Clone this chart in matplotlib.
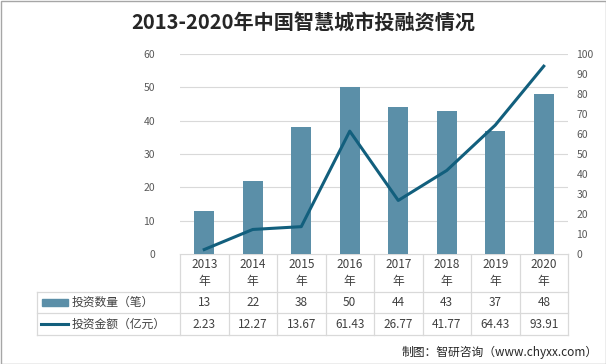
import matplotlib.pyplot as plt
from matplotlib.patches import Rectangle

plt.rcParams["font.family"] = ["Noto Sans CJK SC", "DejaVu Sans"]

years = ["2013", "2014", "2015", "2016", "2017", "2018", "2019", "2020"]
counts = [13, 22, 38, 50, 44, 43, 37, 48]
amounts = [2.23, 12.27, 13.67, 61.43, 26.77, 41.77, 64.43, 93.91]
count_label = "投资数量（笔）"
amount_label = "投资金额（亿元）"

BAR_COLOR = "#5b8fa8"
LINE_COLOR = "#125f7d"
GRID_COLOR = "#d9d9d9"
TEXT_COLOR = "#404040"
TICK_COLOR = "#595959"

W, H = 606, 364


def main():
    fig = plt.figure(figsize=(W / 100, H / 100), dpi=100)

    # page-size overlay in pixel coordinates for table, title and border
    page = fig.add_axes([0, 0, 1, 1])
    page.set_xlim(0, W)
    page.set_ylim(H, 0)
    page.axis("off")

    left, right, top, bottom = 180, 568, 54, 254
    ax = fig.add_axes([left / W, 1 - bottom / H, (right - left) / W, (bottom - top) / H])
    n = len(years)
    x = list(range(n))

    ax.bar(x, counts, width=0.42, color=BAR_COLOR, zorder=2)
    ax.set_xlim(-0.5, n - 0.5)
    ax.set_ylim(0, 60)
    ax.set_yticks(range(0, 61, 10))
    ax.yaxis.grid(True, color=GRID_COLOR, linewidth=0.8, zorder=0)
    ax.set_xticks([])
    for s in ax.spines.values():
        s.set_visible(False)
    ax.tick_params(axis="y", length=0, labelsize=7.5, labelcolor=TICK_COLOR, pad=18)

    ax2 = ax.twinx()
    ax2.plot(x, amounts, color=LINE_COLOR, linewidth=2.2, zorder=3)
    ax2.set_ylim(0, 100)
    ax2.set_yticks(range(0, 101, 10))
    for s in ax2.spines.values():
        s.set_visible(False)
    ax2.tick_params(axis="y", length=0, labelsize=7.5, labelcolor=TICK_COLOR, pad=6)

    # title
    page.text(W / 2, 22, "2013-2020年中国智慧城市投融资情况", ha="center", va="center",
              fontsize=14.5, fontweight="bold", color="#262626")

    # data table
    tab_left = 37
    rows = [254, 292, 313, 335]
    col_w = (right - left) / n
    lc = {"color": GRID_COLOR, "linewidth": 0.9}
    page.plot([left, right], [rows[0], rows[0]], **lc)
    for r in rows[1:]:
        page.plot([tab_left, right], [r, r], **lc)
    page.plot([tab_left, tab_left], [rows[1], rows[3]], **lc)
    for i in range(n + 1):
        cx = left + i * col_w
        page.plot([cx, cx], [rows[0], rows[3]], **lc)

    for i, yr in enumerate(years):
        cx = left + (i + 0.5) * col_w
        page.text(cx, (rows[0] + rows[1]) / 2, yr + "\n年", ha="center", va="center",
                  fontsize=8.5, color=TEXT_COLOR, linespacing=1.35)
        page.text(cx, (rows[1] + rows[2]) / 2, str(counts[i]), ha="center", va="center",
                  fontsize=8.5, color=TEXT_COLOR)
        page.text(cx, (rows[2] + rows[3]) / 2, f"{amounts[i]:.2f}", ha="center", va="center",
                  fontsize=8.5, color=TEXT_COLOR)

    y1 = (rows[1] + rows[2]) / 2
    y2 = (rows[2] + rows[3]) / 2
    page.add_patch(Rectangle((42, y1 - 3.5), 26, 7, color=BAR_COLOR))
    page.plot([41, 68], [y2, y2], color=LINE_COLOR, linewidth=2.2)
    page.text(72, y1, count_label, ha="left", va="center", fontsize=8.5, color=TEXT_COLOR)
    page.text(72, y2, amount_label, ha="left", va="center", fontsize=8.5, color=TEXT_COLOR)

    # source
    page.text(598, 352, "制图：智研咨询（www.chyxx.com）", ha="right", va="center",
              fontsize=8.5, color="#262626")

    # outer border
    page.add_patch(Rectangle((0.5, 0.5), W - 1, H - 1, fill=False, edgecolor="#a6a6a6", linewidth=1))

    fig.savefig("out.png", dpi=100)
    plt.close(fig)


if __name__ == "__main__":
    main()
